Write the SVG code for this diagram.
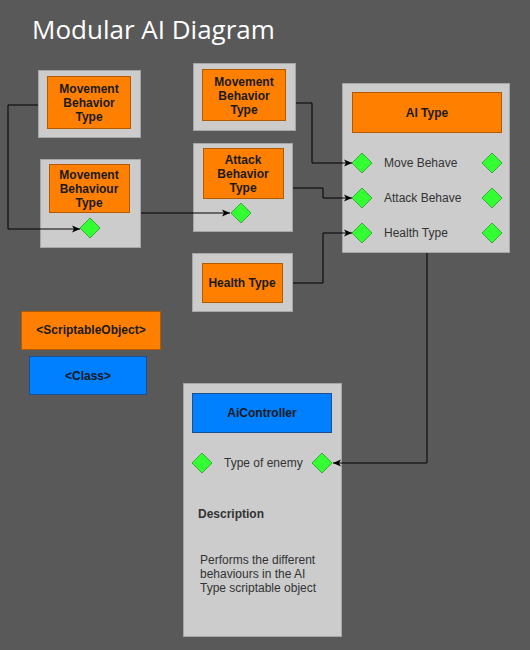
<svg xmlns="http://www.w3.org/2000/svg" width="530" height="650" viewBox="0 0 530 650">
<style>
.bg{fill:#595959}
.box{fill:#cccccc;stroke:#a6a6a6;stroke-width:1}
.or{fill:#ff8000;stroke:#b35a00;stroke-width:1}
.bl{fill:#007fff;stroke:#1d4f8c;stroke-width:1}
.dia{fill:#33ff33;stroke:#1f9e1f;stroke-width:0.8}
.lb{font-family:"Liberation Sans",Arial,sans-serif;font-size:12px;font-weight:bold;fill:#1a1a1a;text-anchor:middle}
.tx{font-family:"Liberation Sans",Arial,sans-serif;font-size:12px;fill:#333333}
.ttl{font-family:"Open Sans","Noto Sans",sans-serif;font-size:26px;fill:#ffffff}
.cn{fill:none;stroke:#000000;stroke-width:1;marker-end:url(#ah)}
</style>
<defs>
<marker id="ah" markerWidth="10" markerHeight="10" refX="9" refY="5" orient="auto" markerUnits="userSpaceOnUse">
<path d="M1,1.5 L9,5 L1,8.5 L3,5 Z" fill="#000"/>
</marker>
<path id="dm" d="M0,-10 L10,0 L0,10 L-10,0 Z"/>
</defs>
<rect class="bg" x="0" y="0" width="530" height="650"/>
<text class="ttl" x="32" y="39">Modular AI Diagram</text>

<g id="movement-behavior-type-1">
<rect class="box" x="38.5" y="70.5" width="102" height="67"/>
<rect class="or" x="47.5" y="76.5" width="83" height="52"/>
<text class="lb" x="89" y="93">Movement</text>
<text class="lb" x="89" y="107">Behavior</text>
<text class="lb" x="89" y="121">Type</text>
</g>

<g id="movement-behaviour-type">
<rect class="box" x="40.5" y="159.5" width="100" height="88"/>
<rect class="or" x="49.5" y="164.5" width="80" height="48"/>
<text class="lb" x="89" y="179">Movement</text>
<text class="lb" x="89" y="193">Behaviour</text>
<text class="lb" x="89" y="207">Type</text>
<use href="#dm" class="dia" x="90" y="228"/>
</g>

<g id="movement-behavior-type-2">
<rect class="box" x="193.5" y="63.5" width="102" height="67"/>
<rect class="or" x="202.5" y="69.5" width="83" height="51"/>
<text class="lb" x="244" y="86">Movement</text>
<text class="lb" x="244" y="100">Behavior</text>
<text class="lb" x="244" y="114">Type</text>
</g>

<g id="attack-behavior-type">
<rect class="box" x="193.5" y="143.5" width="99" height="88"/>
<rect class="or" x="203.5" y="148.5" width="80" height="50"/>
<text class="lb" x="243" y="164">Attack</text>
<text class="lb" x="243" y="178">Behavior</text>
<text class="lb" x="243" y="192">Type</text>
<use href="#dm" class="dia" x="241" y="213"/>
</g>

<g id="health-type">
<rect class="box" x="192.5" y="253.5" width="100" height="58"/>
<rect class="or" x="202.5" y="263.5" width="80" height="39"/>
<text class="lb" x="242" y="287">Health Type</text>
</g>

<g id="ai-type">
<rect class="box" x="342.5" y="83.5" width="167" height="169"/>
<rect class="or" x="352.5" y="92.5" width="149" height="40"/>
<text class="lb" x="427" y="117">AI Type</text>
<use href="#dm" class="dia" x="362" y="163"/>
<text class="tx" x="384" y="167">Move Behave</text>
<use href="#dm" class="dia" x="492" y="163"/>
<use href="#dm" class="dia" x="362" y="198"/>
<text class="tx" x="384" y="202">Attack Behave</text>
<use href="#dm" class="dia" x="492" y="198"/>
<use href="#dm" class="dia" x="362" y="233"/>
<text class="tx" x="384" y="237">Health Type</text>
<use href="#dm" class="dia" x="492" y="233"/>
</g>

<g id="legend-scriptable-object">
<rect class="or" x="21.5" y="311.5" width="139" height="38"/>
<text class="lb" x="91" y="334">&lt;ScriptableObject&gt;</text>
</g>

<g id="legend-class">
<rect class="bl" x="29.5" y="356.5" width="117" height="38"/>
<text class="lb" x="88" y="380">&lt;Class&gt;</text>
</g>

<g id="ai-controller">
<rect class="box" x="183.5" y="383.5" width="158" height="253"/>
<rect class="bl" x="192.5" y="393.5" width="139" height="39"/>
<text class="lb" x="262" y="417">AiController</text>
<use href="#dm" class="dia" x="202" y="463"/>
<text class="tx" x="224" y="467">Type of enemy</text>
<use href="#dm" class="dia" x="322" y="463"/>
<text class="tx" x="198" y="518" style="font-weight:bold">Description</text>
<text class="tx" x="200" y="564">Performs the different</text>
<text class="tx" x="200" y="578">behaviours in the AI</text>
<text class="tx" x="200" y="592">Type scriptable object</text>
</g>

<g id="connectors">
<path class="cn" d="M38,105 H8 V229 H80"/>
<path class="cn" d="M141,213 H230"/>
<path class="cn" d="M296,103 H312 V163 H352"/>
<path class="cn" d="M293,188 H323 V198 H352"/>
<path class="cn" d="M293,283 H323 V233 H352"/>
<path class="cn" d="M427,253 V463 H333"/>
</g>
</svg>
